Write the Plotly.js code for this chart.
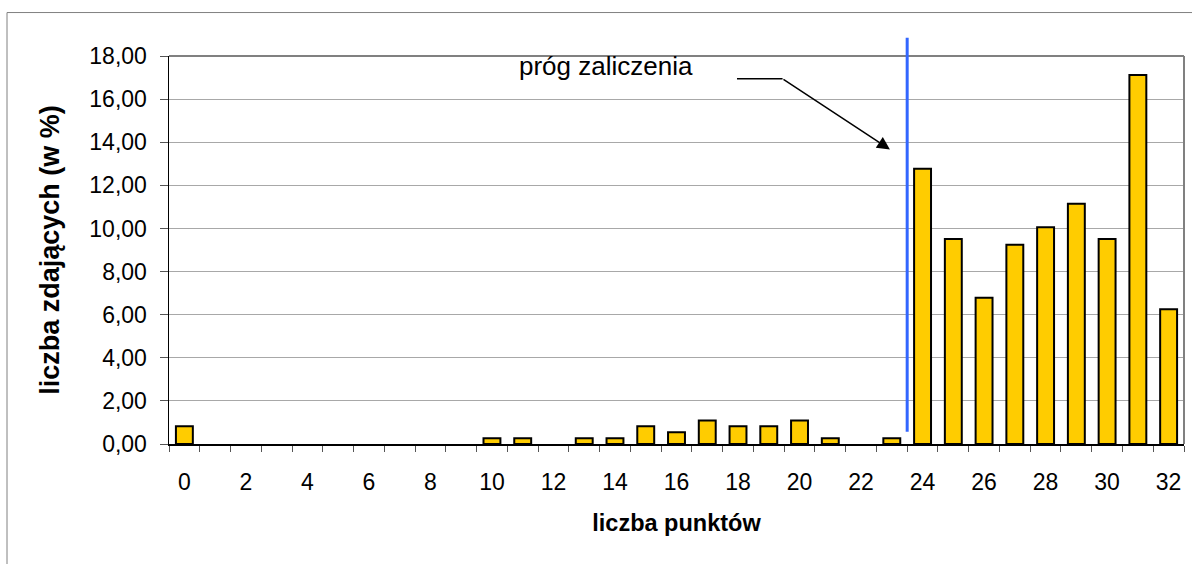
<!DOCTYPE html>
<html>
<head>
<meta charset="utf-8">
<script src="https://cdn.plot.ly/plotly-3.0.1.min.js"></script>
<style>html,body{margin:0;padding:0;background:#fff;}#chart{width:1192px;height:564px;}</style>
</head>
<body>
<div id="chart"></div>
<script>
// Data
const points = [0,1,2,3,4,5,6,7,8,9,10,11,12,13,14,15,16,17,18,19,20,21,22,23,24,25,26,27,28,29,30,31,32];
const percentages = [0.82,0,0,0,0,0,0,0,0,0,0.27,0.27,0,0.27,0.27,0.82,0.54,1.09,0.82,0.82,1.09,0.27,0,0.27,12.77,9.51,6.79,9.24,10.05,11.14,9.51,17.12,6.25];
const xTickLabels = ['0','2','4','6','8','10','12','14','16','18','20','22','24','26','28','30','32'];
const xTickValues = [0,2,4,6,8,10,12,14,16,18,20,22,24,26,28,30,32];
const boundaryTicks = [-0.5,0.5,1.5,2.5,3.5,4.5,5.5,6.5,7.5,8.5,9.5,10.5,11.5,12.5,13.5,14.5,15.5,16.5,17.5,18.5,19.5,20.5,21.5,22.5,23.5,24.5,25.5,26.5,27.5,28.5,29.5,30.5,31.5,32.5];
const passThreshold = 23.5;
const xTitle = 'liczba punktów';
const yTitle = 'liczba zdających (w %)';
const noteText = 'próg zaliczenia';

const FONT = 'Liberation Sans, Arial, sans-serif';

// zero-height bars are not drawn (no outline) in the reference
const barHeights = percentages.map(v => (v === 0 ? null : v));

const trace = {
  type: 'bar',
  x: points,
  y: barHeights,
  marker: {color: '#FFCC00', line: {color: '#000000', width: 2}},
  hoverinfo: 'skip'
};

const layout = {
  width: 1192, height: 564,
  margin: {l: 169, r: 8, t: 55.5, b: 120, pad: 0},
  paper_bgcolor: '#ffffff',
  plot_bgcolor: '#ffffff',
  separators: ', ',
  bargap: 0.45,
  showlegend: false,
  font: {family: FONT, color: '#000'},
  xaxis: {
    range: [-0.5, 32.5],
    tickmode: 'array', tickvals: xTickValues, ticktext: xTickLabels,
    ticks: '', showgrid: false, zeroline: false,
    showline: true, linecolor: '#000', linewidth: 1.5,
    tickfont: {size: 23, family: FONT, color: '#000'},
    ticklabelstandoff: 17,
    minor: {tickmode: 'array', tickvals: boundaryTicks, ticks: 'outside', ticklen: 6, tickcolor: '#555', tickwidth: 1, showgrid: false},
    title: {text: xTitle, font: {size: 23.5, family: FONT, weight: 'bold', color: '#000'}, standoff: 20},
    fixedrange: true
  },
  yaxis: {
    range: [0, 18], dtick: 2, tick0: 0, tickformat: '.2f',
    ticks: 'outside', ticklen: 8, tickcolor: '#555', tickwidth: 1,
    showgrid: true, gridcolor: '#a8a8a8', gridwidth: 1,
    zeroline: false, showline: true, linecolor: '#000', linewidth: 1.5,
    tickfont: {size: 23, family: FONT, color: '#000'},
    ticklabelstandoff: 8,
    title: {text: yTitle, font: {size: 27, family: FONT, weight: 'bold', color: '#000'}, standoff: 22},
    fixedrange: true
  },
  shapes: [
    // outer chart frame
    {type: 'rect', xref: 'paper', yref: 'paper', x0: -0.1596, x1: 1.2, y0: -0.6, y1: 1.112, line: {color: '#808080', width: 1}, layer: 'below'},
    // top and right plot border
    {type: 'line', xref: 'paper', yref: 'paper', x0: 0, x1: 1, y0: 1, y1: 1, line: {color: '#808080', width: 2}},
    {type: 'line', xref: 'paper', yref: 'paper', x0: 1, x1: 1, y0: 0, y1: 1, line: {color: '#808080', width: 2}},
    // pass threshold line
    {type: 'line', xref: 'x', yref: 'paper', x0: passThreshold, x1: passThreshold, y0: 0.0317, y1: 1.047, line: {color: '#3366FF', width: 3}},
    // horizontal leader of the arrow
    {type: 'line', xref: 'paper', yref: 'paper', x0: 0.5596, x1: 0.6045, y0: 0.9413, y1: 0.9413, line: {color: '#000', width: 1.5}}
  ],
  annotations: [
    {xref: 'paper', yref: 'paper', x: 0.3424, y: 0.9755, xanchor: 'left', yanchor: 'middle', text: noteText, showarrow: false, font: {size: 26, family: FONT, color: '#000'}},
    {xref: 'paper', yref: 'paper', x: 0.7103, y: 0.7593, text: '', showarrow: true, ax: -108, ay: -71, arrowhead: 2, arrowsize: 1.7, arrowwidth: 1.5, arrowcolor: '#000', standoff: 0}
  ]
};

Plotly.newPlot('chart', [trace], layout, {displayModeBar: false, staticPlot: true});
</script>
</body>
</html>
